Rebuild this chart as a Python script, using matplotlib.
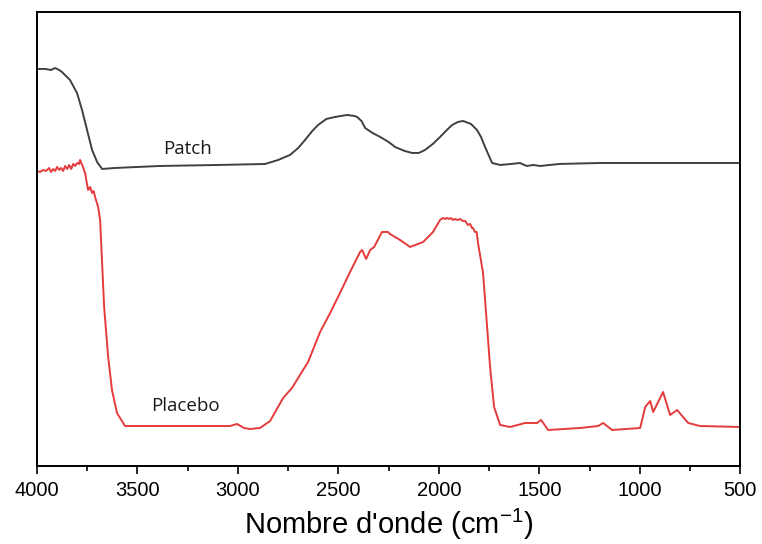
import matplotlib
matplotlib.use("Agg")
import matplotlib.pyplot as plt
from matplotlib.ticker import MultipleLocator

plt.rcParams['font.family'] = ['Liberation Sans', 'DejaVu Sans']
plt.rcParams['mathtext.fontset'] = 'custom'
plt.rcParams['mathtext.rm'] = 'Liberation Sans'
plt.rcParams['mathtext.it'] = 'Liberation Sans'

# FTIR spectra, wavenumber (cm-1) vs signal (arbitrary units, offset)
patch_wn = [4000, 3960, 3930, 3910, 3890, 3876, 3836, 3801, 3776, 3751, 3726,
            3701, 3676, 3612, 3388, 3100, 2865, 2800, 2741, 2700, 2666, 2630,
            2601, 2560, 2517, 2457, 2420, 2407, 2385, 2367, 2330, 2292, 2250,
            2218, 2170, 2133, 2100, 2069, 2030, 1994, 1960, 1934, 1905, 1879,
            1840, 1810, 1790, 1770, 1735, 1695, 1640, 1596, 1575, 1561, 1530,
            1496, 1400, 1197, 900, 500]
patch_y = [397, 397, 396, 398, 396, 394, 386, 373, 356, 336, 316,
           304, 297, 298, 300, 301, 302, 306, 311, 318, 326, 335,
           341, 347, 349, 351, 350, 349, 345, 338, 333, 329, 324,
           319, 315, 313, 313, 316, 322, 329, 336, 341, 344, 345,
           342, 336, 329, 319, 303, 301, 302, 303, 301, 300, 301,
           300, 302, 303, 303, 303]

placebo_wn = [4000, 3985, 3970, 3955, 3940, 3930, 3920, 3910, 3900, 3890,
              3880, 3870, 3860, 3850, 3840, 3830, 3820, 3810, 3800, 3790,
              3786, 3775, 3761, 3746, 3736, 3726, 3718, 3711, 3696, 3686,
              3666, 3646, 3627, 3602, 3562, 3300, 3100, 3039, 3004, 2970,
              2940, 2890, 2840, 2775, 2731, 2691, 2651, 2591, 2541, 2492,
              2442, 2392, 2382, 2362, 2342, 2322, 2283, 2253, 2243, 2193,
              2143, 2078, 2029, 1994, 1979, 1968, 1960, 1950, 1940, 1930,
              1920, 1905, 1894, 1880, 1869, 1855, 1844, 1835, 1830, 1820,
              1812, 1805, 1780, 1765, 1745, 1725, 1695, 1645, 1571, 1511,
              1491, 1456, 1297, 1207, 1182, 1138, 998, 973, 948, 933,
              884, 849, 814, 759, 700, 500]
placebo_y = [295, 294, 296, 295, 298, 294, 297, 295, 299, 296,
             298, 295, 300, 297, 301, 297, 302, 300, 303, 302,
             306, 301, 293, 276, 279, 273, 275, 269, 259, 246,
             159, 109, 76, 53, 40, 40, 40, 40, 42, 38,
             37, 38, 45, 68, 78, 91, 104, 134, 153, 173,
             194, 214, 216, 207, 216, 219, 234, 234, 232, 226,
             219, 224, 234, 246, 248, 247, 248, 247, 248, 246,
             247, 246, 247, 245, 245, 241, 242, 238, 238, 234,
             234, 223, 193, 153, 99, 59, 41, 39, 43, 43,
             46, 36, 38, 40, 43, 36, 38, 59, 65, 54,
             74, 51, 56, 43, 40, 39]

tick_step = 500

fig = plt.figure(figsize=(7.62, 5.44), dpi=100)
ax = fig.add_axes([0.0486, 0.1434, 0.9228, 0.8346])

ax.plot(patch_wn, patch_y, color='#404040', lw=1.4)
ax.plot(placebo_wn, placebo_y, color='#e53b3b', lw=1.4)

ax.text(3250, 317, 'Patch', fontsize=13.5, color='#1a1a1a',
        family=['Open Sans', 'DejaVu Sans'], ha='center', va='center')
ax.text(3260, 60, 'Placebo', fontsize=13.5, color='#1a1a1a',
        family=['Open Sans', 'DejaVu Sans'], ha='center', va='center')

ax.set_xlim(4000, 500)
ax.set_ylim(0, 454)
ax.xaxis.set_major_locator(MultipleLocator(tick_step))
ax.xaxis.set_minor_locator(MultipleLocator(tick_step / 2))
ax.set_yticks([])
ax.tick_params(axis='x', which='major', direction='out', length=6, width=1.2,
               labelsize=14.5, pad=5)
ax.tick_params(axis='x', which='minor', direction='out', length=3.5, width=1.2)
for s in ax.spines.values():
    s.set_linewidth(1.4)

ax.set_xlabel("Nombre d'onde (cm$^{-1}$)", fontsize=21, labelpad=5)

fig.savefig('out.png', dpi=100)
